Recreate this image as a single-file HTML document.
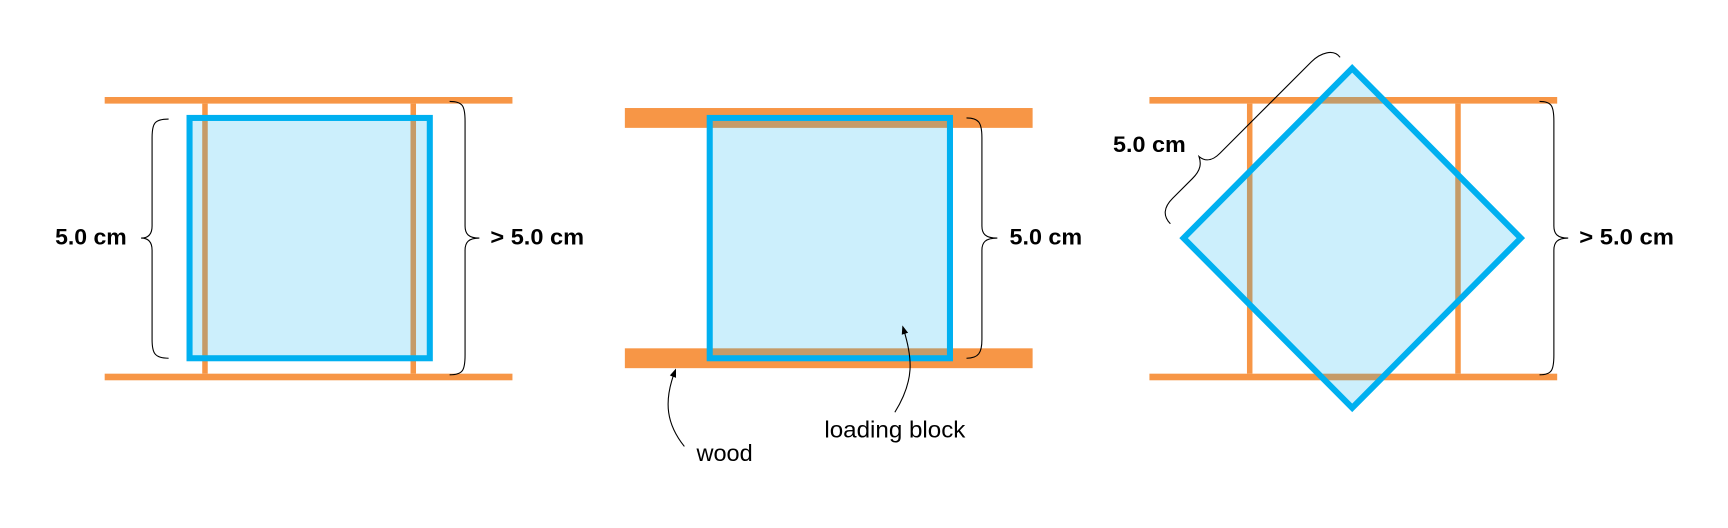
<!DOCTYPE html>
<html><head><style>html,body{margin:0;padding:0;background:#fff}svg{display:block}</style></head>
<body>
<svg width="1728" height="528" viewBox="0 0 1568 479" preserveAspectRatio="none" xmlns="http://www.w3.org/2000/svg" font-family="Liberation Sans, sans-serif">
<defs><marker id="ar" markerWidth="8" markerHeight="8" refX="4" refY="4" orient="auto"><path d="M0,1 L8,4 L0,7 Z" fill="#000"/></marker></defs>
<g>
<rect x="95" y="88" width="370" height="6" fill="#f79646"/>
<rect x="95" y="339" width="370" height="6" fill="#f79646"/>
<rect x="183.5" y="94" width="5" height="245" fill="#f79646"/>
<rect x="372.5" y="94" width="5" height="245" fill="#f79646"/>
<rect x="172" y="107" width="218" height="218" fill="#00b0f0" fill-opacity="0.2" stroke="#00b0f0" stroke-width="5.5"/>
<path d="M153,108 C140,108 138,112 138,125 L138,205 C138,212 135,216 128,216 C135,216 138,220 138,227 L138,308 C138,320 140,325 153,325" fill="none" stroke="#000" stroke-width="1"/>
<text x="50" y="222" font-size="20.5" font-weight="bold" textLength="65" lengthAdjust="spacingAndGlyphs">5.0 cm</text>
<path d="M408,92 C420,92 422,96 422,110 L422,205 C422,212 425,216 435,216 C425,216 422,220 422,227 L422,322 C422,336 420,340 408,340" fill="none" stroke="#000" stroke-width="1"/>
<text x="445" y="222" font-size="20.5" font-weight="bold" textLength="85" lengthAdjust="spacingAndGlyphs">&gt; 5.0 cm</text>
</g>
<g>
<rect x="567" y="98" width="370" height="18" fill="#f79646"/>
<rect x="567" y="316" width="370" height="18" fill="#f79646"/>
<rect x="644" y="107" width="218" height="218" fill="#00b0f0" fill-opacity="0.2" stroke="#00b0f0" stroke-width="5.5"/>
<path d="M877,107 C888,107 891,111 891,125 L891,205 C891,212 894,216 905,216 C894,216 891,220 891,227 L891,308 C891,320 888,325 877,325" fill="none" stroke="#000" stroke-width="1"/>
<text x="916" y="222" font-size="20.5" font-weight="bold" textLength="66" lengthAdjust="spacingAndGlyphs">5.0 cm</text>
<path d="M621,405 C605,385 602,365 612,338" fill="none" stroke="#000" stroke-width="1" marker-end="url(#ar)"/>
<text x="632" y="418" font-size="21" textLength="51" lengthAdjust="spacingAndGlyphs">wood</text>
<path d="M812,374 C830,345 828,325 820,299" fill="none" stroke="#000" stroke-width="1" marker-end="url(#ar)"/>
<text x="748" y="397" font-size="21" textLength="128" lengthAdjust="spacingAndGlyphs">loading block</text>
</g>
<g>
<rect x="1043" y="88" width="370" height="6" fill="#f79646"/>
<rect x="1043" y="339" width="370" height="6" fill="#f79646"/>
<rect x="1131.5" y="94" width="5" height="245" fill="#f79646"/>
<rect x="1320.5" y="94" width="5" height="245" fill="#f79646"/>
<polygon points="1227,62 1380,216 1227,370 1074,216" fill="#00b0f0" fill-opacity="0.2" stroke="#00b0f0" stroke-width="5.5" stroke-linejoin="miter"/>
<path d="M1397,92 C1408,92 1410,96 1410,110 L1410,205 C1410,212 1413,216 1423,216 C1413,216 1410,220 1410,227 L1410,322 C1410,336 1408,340 1397,340" fill="none" stroke="#000" stroke-width="1"/>
<text x="1433" y="222" font-size="20.5" font-weight="bold" textLength="86" lengthAdjust="spacingAndGlyphs">&gt; 5.0 cm</text>
<path d="M1062,203 C1055,196 1056,188 1064,180 L1082,162 C1090,154 1090,148 1088,142 C1094,147 1100,146 1107,139 L1190,56 C1198,48 1210,44 1216,52" fill="none" stroke="#000" stroke-width="1"/>
<text x="1010" y="138" font-size="20.5" font-weight="bold" textLength="66" lengthAdjust="spacingAndGlyphs">5.0 cm</text>
</g>
</svg>
</body></html>
